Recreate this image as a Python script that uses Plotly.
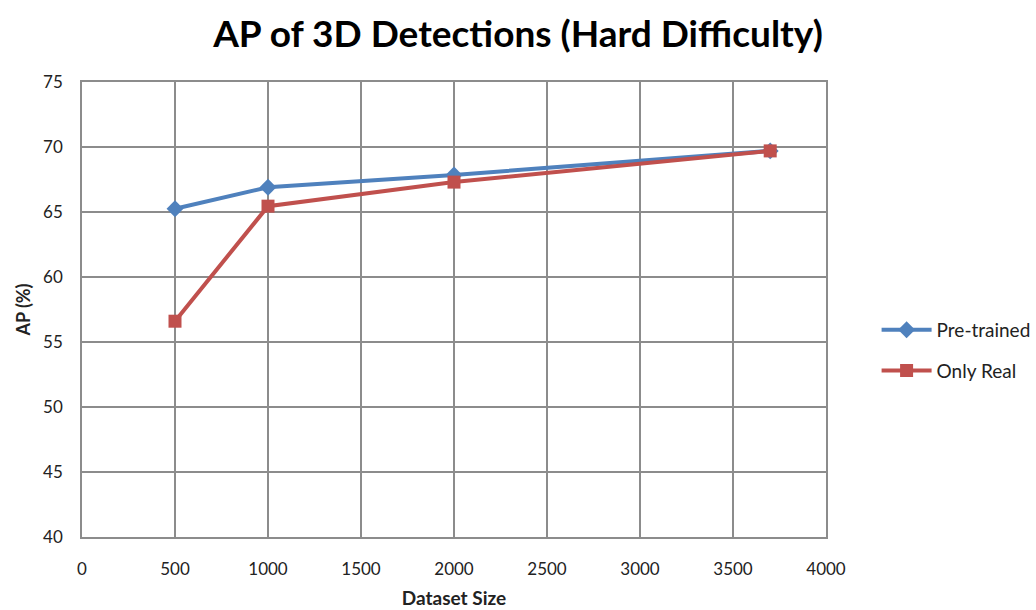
import plotly.graph_objects as go

dataset_size = [500, 1000, 2000, 3700]
pretrained = [65.25, 66.9, 67.85, 69.7]
only_real = [56.6, 65.45, 67.3, 69.7]

FONT = "Lato"

fig = go.Figure()
fig.add_trace(go.Scatter(
    x=dataset_size, y=pretrained, name="Pre-trained", mode="lines+markers",
    line=dict(color="#4F81BD", width=4),
    marker=dict(symbol="diamond", size=13, color="#4F81BD"),
    legendgroup="a",
))
fig.add_trace(go.Scatter(
    x=dataset_size, y=only_real, name="Only Real", mode="lines+markers",
    line=dict(color="#C0504D", width=4),
    marker=dict(symbol="square", size=13, color="#C0504D"),
    legendgroup="b",
))

fig.update_layout(
    width=1036, height=610,
    margin=dict(l=82, r=210, t=82, b=73, autoexpand=False),
    paper_bgcolor="white", plot_bgcolor="white",
    font=dict(family=FONT, color="#222222", size=17),
    title=dict(text="<b>AP of 3D Detections (Hard Difficulty)</b>",
               x=0.5, xanchor="center", y=0.945, yanchor="middle",
               font=dict(size=37, family=FONT, color="#000000")),
    legend=dict(x=1.068, xanchor="left", y=0.41, yanchor="middle",
                font=dict(size=19, family=FONT, color="#222222"),
                tracegroupgap=13, traceorder="grouped",
                itemwidth=50),
    showlegend=True,
)
fig.update_xaxes(
    range=[0, 4000], dtick=500, tick0=0, automargin=False,
    showgrid=True, gridcolor="#8c8c8c", gridwidth=1.5,
    showline=True, linecolor="#8c8c8c", linewidth=1.5, mirror=True,
    ticks="outside", ticklen=16, tickcolor="rgba(0,0,0,0)", zeroline=False,
    tickfont=dict(size=17, family=FONT),
    title=dict(text="<b>Dataset Size</b>", font=dict(size=19, family=FONT), standoff=14),
)
fig.update_yaxes(
    range=[40, 75], dtick=5, tick0=40, automargin=False,
    showgrid=True, gridcolor="#8c8c8c", gridwidth=1.5,
    showline=True, linecolor="#8c8c8c", linewidth=1.5, mirror=True,
    ticks="outside", ticklen=14, tickcolor="rgba(0,0,0,0)", zeroline=False,
    tickfont=dict(size=17, family=FONT),
    title=dict(text="<b>AP (%)</b>", font=dict(size=18, family=FONT), standoff=8),
)

fig.write_html("out.html")
